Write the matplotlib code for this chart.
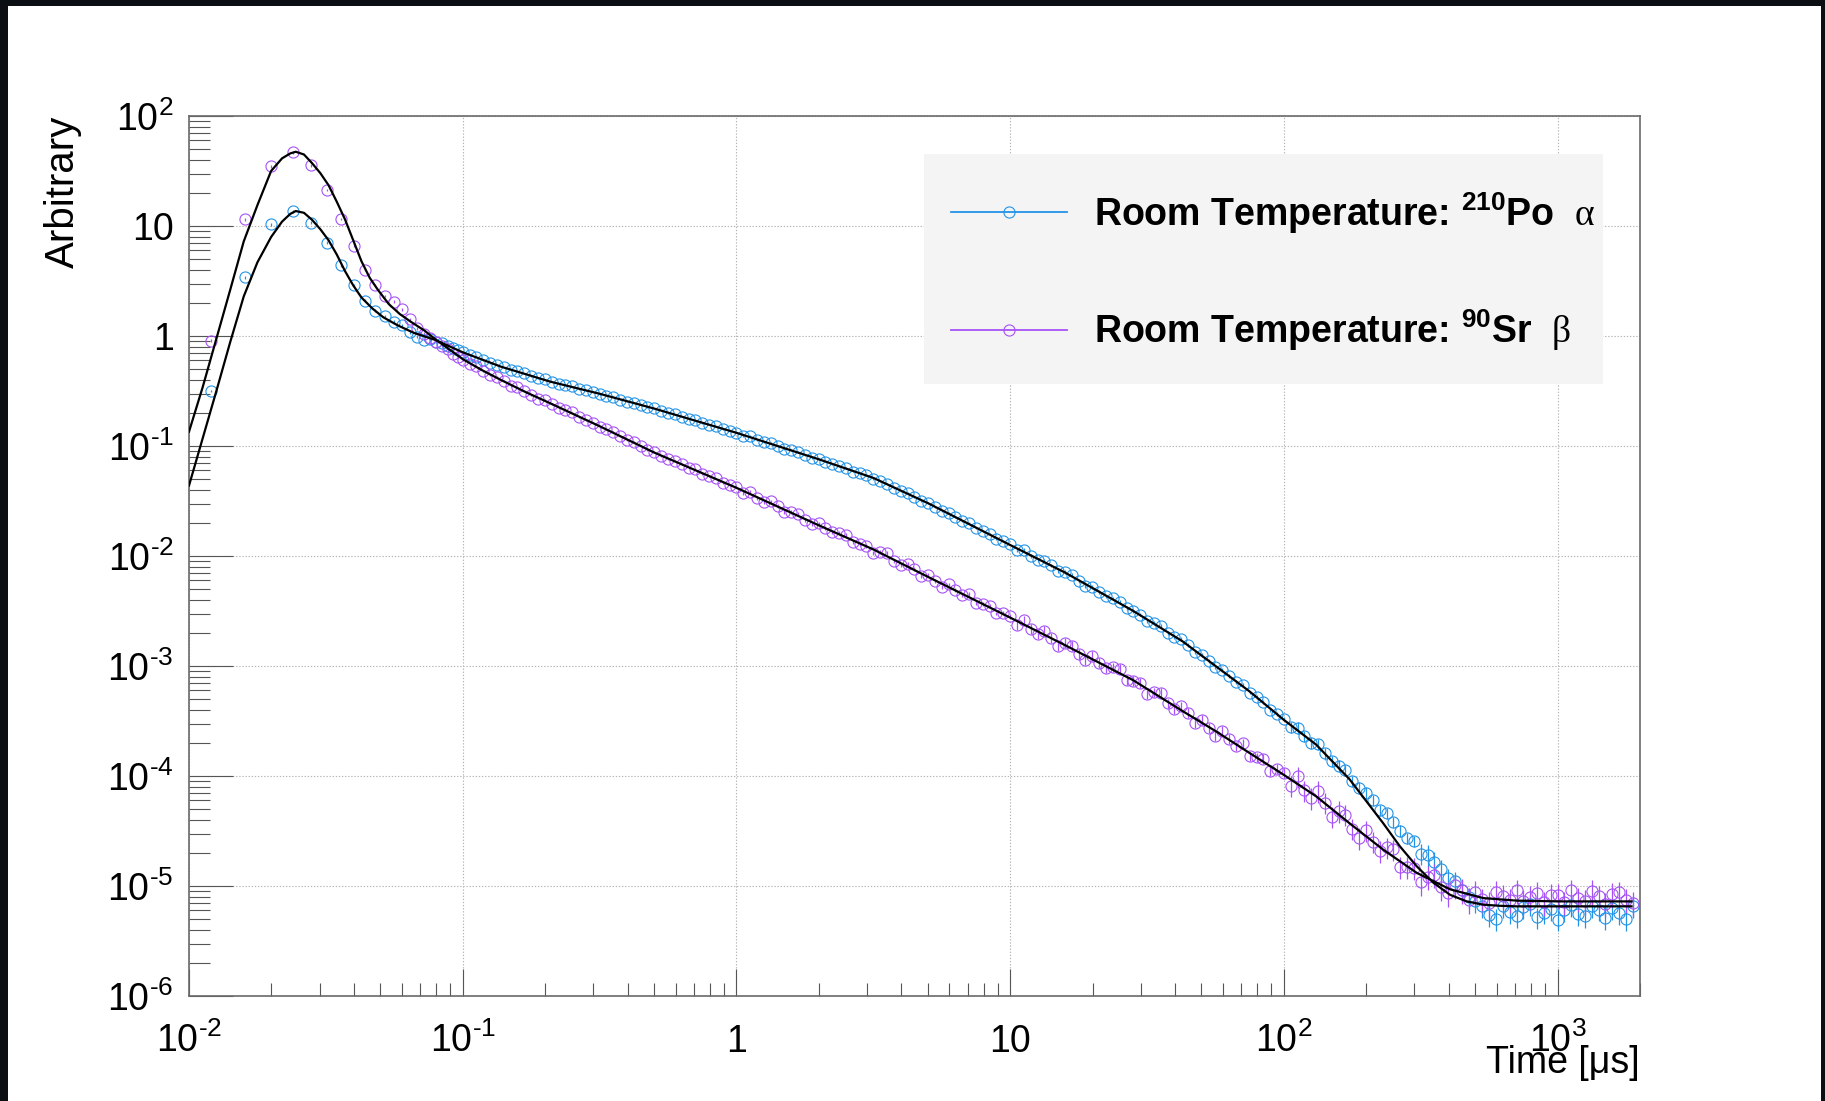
import numpy as np
import matplotlib
matplotlib.use("Agg")
import matplotlib.pyplot as plt
from matplotlib import font_manager
from matplotlib.lines import Line2D
from matplotlib.patches import Rectangle
from matplotlib.ticker import FixedLocator, LogLocator, NullFormatter

_names = {f.name for f in font_manager.fontManager.ttflist}
NARROW = 'Liberation Sans Narrow' in _names
BASE = 'Liberation Sans Narrow' if NARROW else 'Liberation Sans'
FS = 1.2 if NARROW else 1.0   # size factor so that widths stay the same

plt.rcParams['font.family'] = [BASE, 'Liberation Sans', 'DejaVu Sans']
plt.rcParams['mathtext.fontset'] = 'custom'
plt.rcParams['mathtext.rm'] = BASE
plt.rcParams['mathtext.it'] = BASE + ':italic'
plt.rcParams['mathtext.bf'] = BASE + ':bold'
plt.rcParams['mathtext.sf'] = 'Liberation Serif'

# ---------------- data (times in microseconds, values as log10) ----------------
early_t = [0.012, 0.016, 0.020, 0.024, 0.028, 0.032, 0.036, 0.040, 0.044, 0.048, 0.052,
           0.056, 0.060, 0.064, 0.068, 0.072, 0.076, 0.080, 0.084, 0.088, 0.092, 0.096]
bin_mantissas = [1.000, 1.059, 1.122, 1.189, 1.259, 1.334, 1.413, 1.496, 1.585, 1.679,
                 1.778, 1.884, 1.995, 2.113, 2.239, 2.371, 2.512, 2.661, 2.818, 2.985,
                 3.162, 3.350, 3.548, 3.758, 3.981, 4.217, 4.467, 4.732, 5.012, 5.309,
                 5.623, 5.957, 6.310, 6.683, 7.079, 7.499, 7.943, 8.414, 8.913, 9.441]
bin_decades = [0.1, 1.0, 10.0, 100.0, 1000.0]
t_max = 1900.0

po_early_logy = [-0.50, 0.534, 1.015, 1.134, 1.03, 0.848, 0.645, 0.461, 0.321, 0.23, 0.182,
                 0.13, 0.097, 0.034, -0.006, -0.036, -0.03, -0.05, -0.068, -0.088, -0.11, -0.13]
sr_early_logy = [-0.043, 1.06, 1.545, 1.67, 1.552, 1.327, 1.064, 0.821, 0.60, 0.464, 0.364,
                 0.312, 0.242, 0.152, 0.07, 0.02, -0.02, -0.05, -0.09, -0.12, -0.16, -0.19]

po_logy = [
    -0.146, -0.176, -0.189, -0.219, -0.246, -0.260, -0.286, -0.311,
    -0.321, -0.339, -0.364, -0.386, -0.395, -0.418, -0.436, -0.445,
    -0.458, -0.483, -0.495, -0.508, -0.531, -0.541, -0.554, -0.578,
    -0.597, -0.606, -0.624, -0.648, -0.657, -0.679, -0.702, -0.710,
    -0.732, -0.754, -0.764, -0.792, -0.807, -0.821, -0.848, -0.860,
    -0.878, -0.906, -0.912, -0.942, -0.965, -0.973, -0.999, -1.028,
    -1.036, -1.054, -1.083, -1.107, -1.114, -1.141, -1.167, -1.179,
    -1.197, -1.232, -1.249, -1.266, -1.298, -1.317, -1.341, -1.378,
    -1.410, -1.428, -1.461, -1.497, -1.516, -1.554, -1.590, -1.609,
    -1.645, -1.681, -1.702, -1.747, -1.773, -1.800, -1.843, -1.866,
    -1.895, -1.943, -1.948, -1.997, -2.034, -2.042, -2.086, -2.134,
    -2.142, -2.174, -2.226, -2.269, -2.278, -2.325, -2.368, -2.386,
    -2.415, -2.476, -2.502, -2.532, -2.592, -2.612, -2.639, -2.697,
    -2.739, -2.757, -2.808, -2.872, -2.898, -2.956, -3.013, -3.034,
    -3.089, -3.145, -3.170, -3.241, -3.284, -3.326, -3.399, -3.433,
    -3.482, -3.558, -3.560, -3.638, -3.696, -3.711, -3.795, -3.867,
    -3.908, -3.945, -4.045, -4.107, -4.150, -4.221, -4.312, -4.337,
    -4.420, -4.498, -4.567, -4.591, -4.705, -4.717, -4.778, -4.848,
    -4.930, -4.957, -5.032, -5.100, -5.138, -5.180, -5.263, -5.298,
    -5.179, -5.235, -5.270, -5.193, -5.165, -5.284, -5.242, -5.207,
    -5.305, -5.221, -5.172, -5.256, -5.277, -5.186, -5.214, -5.291,
    -5.200, -5.249, -5.298, -5.179,
]
sr_logy = [
    -0.215, -0.259, -0.273, -0.318, -0.355, -0.372, -0.411, -0.453,
    -0.468, -0.497, -0.536, -0.570, -0.581, -0.618, -0.652, -0.670,
    -0.694, -0.740, -0.763, -0.787, -0.830, -0.848, -0.871, -0.913,
    -0.946, -0.963, -0.997, -1.038, -1.055, -1.089, -1.122, -1.132,
    -1.165, -1.197, -1.210, -1.253, -1.273, -1.294, -1.335, -1.350,
    -1.374, -1.424, -1.417, -1.469, -1.505, -1.504, -1.548, -1.598,
    -1.597, -1.621, -1.671, -1.710, -1.704, -1.748, -1.785, -1.791,
    -1.810, -1.872, -1.887, -1.905, -1.970, -1.965, -1.976, -2.043,
    -2.083, -2.075, -2.119, -2.183, -2.175, -2.227, -2.279, -2.259,
    -2.307, -2.356, -2.345, -2.424, -2.437, -2.450, -2.522, -2.520,
    -2.548, -2.623, -2.583, -2.662, -2.709, -2.680, -2.744, -2.819,
    -2.790, -2.814, -2.890, -2.942, -2.906, -2.970, -3.022, -3.010,
    -3.026, -3.126, -3.134, -3.153, -3.258, -3.237, -3.241, -3.339,
    -3.393, -3.367, -3.425, -3.518, -3.491, -3.563, -3.636, -3.591,
    -3.661, -3.731, -3.701, -3.822, -3.831, -3.841, -3.951, -3.935,
    -3.969, -4.087, -4.003, -4.128, -4.197, -4.136, -4.242, -4.369,
    -4.315, -4.351, -4.478, -4.561, -4.491, -4.596, -4.680, -4.649,
    -4.664, -4.826, -4.827, -4.835, -4.968, -4.915, -4.897, -5.012,
    -5.063, -4.993, -5.037, -5.131, -5.056, -5.121, -5.154, -5.052,
    -5.088, -5.124, -5.040, -5.136, -5.100, -5.064, -5.148, -5.082,
    -5.082, -5.148, -5.040, -5.112, -5.136, -5.046, -5.094, -5.160,
    -5.070, -5.058, -5.124, -5.154,
]

# relative statistical errors by time region (upper bounds of regions in us)
err_bounds = [0.1, 1.0, 10.0, 100.0, 300.0]
po_rel_err = [0.03, 0.01, 0.02, 0.04, 0.12, 0.22]
sr_rel_err = [0.03, 0.015, 0.04, 0.10, 0.22, 0.25]

# fitted curves (log10 t, log10 value)
po_fit_logt = [-2.0, -1.95, -1.9, -1.85, -1.8, -1.75, -1.7, -1.66, -1.63, -1.61, -1.58, -1.55,
               -1.52, -1.49, -1.46, -1.43, -1.40, -1.37, -1.33, -1.29, -1.24, -1.18, -1.1,
               -1.0, -0.86, -0.68, -0.5, -0.3, 0.0, 0.3, 0.5, 0.7, 1.0, 1.2, 1.45, 1.63,
               1.752, 1.874, 2.0, 2.118, 2.24, 2.30, 2.363, 2.424, 2.485, 2.546, 2.607,
               2.668, 2.729, 2.79, 2.851, 3.0, 3.27]
po_fit_logy = [-1.36, -0.93, -0.50, -0.06, 0.36, 0.67, 0.90, 1.04, 1.11, 1.136, 1.12, 1.055,
               0.97, 0.87, 0.74, 0.59, 0.46, 0.35, 0.25, 0.17, 0.10, 0.03, -0.036,
               -0.148, -0.279, -0.415, -0.525, -0.66, -0.88, -1.12, -1.29, -1.52, -1.90,
               -2.15, -2.50, -2.776, -3.003, -3.23, -3.49, -3.715, -4.03, -4.225, -4.43,
               -4.64, -4.82, -4.97, -5.08, -5.14, -5.17, -5.18, -5.185, -5.185, -5.185]
sr_fit_logt = [-2.0, -1.95, -1.9, -1.85, -1.8, -1.75, -1.7, -1.66, -1.63, -1.61, -1.58, -1.55,
               -1.52, -1.49, -1.46, -1.43, -1.40, -1.37, -1.34, -1.31, -1.27, -1.23, -1.19,
               -1.14, -1.1, -1.05, -1.0, -0.93, -0.86, -0.77, -0.68, -0.5, -0.3, 0.0, 0.3,
               0.5, 0.7, 1.0, 1.2, 1.45, 1.63, 1.752, 1.874, 2.0, 2.118, 2.24, 2.363, 2.485,
               2.607, 2.729, 2.851, 3.0, 3.27]
sr_fit_logy = [-0.87, -0.465, -0.025, 0.415, 0.86, 1.19, 1.50, 1.615, 1.66, 1.675, 1.65, 1.57,
               1.48, 1.37, 1.22, 1.06, 0.87, 0.68, 0.53, 0.42, 0.29, 0.20, 0.13,
               0.05, -0.03, -0.12, -0.21, -0.31, -0.40, -0.51, -0.612, -0.82, -1.06, -1.38,
               -1.72, -1.94, -2.19, -2.56, -2.81, -3.13, -3.41, -3.594, -3.79, -3.99, -4.185,
               -4.43, -4.67, -4.88, -5.03, -5.11, -5.133, -5.14, -5.14]

x_tick_vals = [1e-2, 1e-1, 1.0, 10.0, 1e2, 1e3]
x_tick_labels = ['$10^{\\text{-}2}$', '$10^{\\text{-}1}$', '1', '10', '$10^{2}$', '$10^{3}$']
y_tick_vals = [1e-6, 1e-5, 1e-4, 1e-3, 1e-2, 1e-1, 1.0, 10.0, 1e2]
y_tick_labels = ['$10^{\\text{-}6}$', '$10^{\\text{-}5}$', '$10^{\\text{-}4}$', '$10^{\\text{-}3}$',
                 '$10^{\\text{-}2}$', '$10^{\\text{-}1}$', '1', '10', '$10^{2}$']

label_po = 'Room Temperature: $^{\\mathbf{210}}$Po  $\\mathsf{\\alpha}$'
label_sr = 'Room Temperature: $^{\\mathbf{90}}$Sr  $\\mathsf{\\beta}$'
color_po = '#2393e6'
color_sr = '#a652f7'

# ---------------- build arrays ----------------
late_t = [m * d for d in bin_decades for m in bin_mantissas if m * d <= t_max]
t_all = np.array(early_t + late_t)


def series(early, late):
    vals = np.array(early + late)
    n = min(len(vals), len(t_all))
    return t_all[:n], 10.0 ** vals[:n]


po_t, po_y = series(po_early_logy, po_logy)
sr_t, sr_y = series(sr_early_logy, sr_logy)
po_err = po_y * np.array(po_rel_err)[np.searchsorted(err_bounds, po_t)]
sr_err = sr_y * np.array(sr_rel_err)[np.searchsorted(err_bounds, sr_t)]

# ---------------- figure ----------------
W, H = 1825, 1101
fig = plt.figure(figsize=(W / 100, H / 100), dpi=100)
fig.patch.set_facecolor('#0b0f14')
fig.add_artist(Rectangle((8 / W, 0), (1821 - 8) / W, (H - 6) / H, transform=fig.transFigure,
                         facecolor='white', edgecolor='none', zorder=-10))

ax_l, ax_r, ax_t, ax_b = 189, 1640, 116, 996
ax = fig.add_axes([ax_l / W, 1 - ax_b / H, (ax_r - ax_l) / W, (ax_b - ax_t) / H])
ax.set_xscale('log')
ax.set_yscale('log')
ax.set_xlim(0.01, 2000)
ax.set_ylim(1e-6, 1e2)

MS = 8.0
ax.errorbar(po_t, po_y, yerr=po_err, fmt='o', ms=MS, mfc='none', mec=color_po, mew=0.8,
            ecolor=color_po, elinewidth=0.9, capsize=0, zorder=2)
ax.errorbar(sr_t, sr_y, yerr=sr_err, fmt='o', ms=MS, mfc='none', mec=color_sr, mew=0.8,
            ecolor=color_sr, elinewidth=0.9, capsize=0, zorder=2)
ax.plot(10.0 ** np.array(po_fit_logt), 10.0 ** np.array(po_fit_logy), color='black', lw=1.6, zorder=3)
ax.plot(10.0 ** np.array(sr_fit_logt), 10.0 ** np.array(sr_fit_logy), color='black', lw=1.6, zorder=3)

# ticks
ax.xaxis.set_major_locator(FixedLocator(x_tick_vals))
ax.set_xticklabels(x_tick_labels)
ax.yaxis.set_major_locator(FixedLocator(y_tick_vals))
ax.set_yticklabels(y_tick_labels)
ax.xaxis.set_minor_locator(LogLocator(base=10, subs=np.arange(2, 10), numticks=100))
ax.yaxis.set_minor_locator(LogLocator(base=10, subs=np.arange(2, 10), numticks=100))
ax.xaxis.set_minor_formatter(NullFormatter())
ax.yaxis.set_minor_formatter(NullFormatter())
ax.tick_params(which='both', direction='in', top=False, right=False, color='#555555', width=0.8)
ax.tick_params(axis='y', which='major', length=31.5, labelsize=27 * FS, pad=11)
ax.tick_params(axis='y', which='minor', length=15)
ax.tick_params(axis='x', which='major', length=19.5, labelsize=27 * FS, pad=40)
ax.tick_params(axis='x', which='minor', length=9.5)
for tk in ax.xaxis.get_major_ticks():
    tk.label1.set_va('baseline')

for sp in ax.spines.values():
    sp.set_color('#6a6a6a')
    sp.set_linewidth(1.2)

ax.grid(True, which='major', color='#b4b4b4', linestyle=(0, (1.2, 1.6)), linewidth=0.8)
ax.set_axisbelow(True)

ax.set_xlabel('Time [μs]', fontsize=27 * FS, ha='right')
ax.xaxis.set_label_coords(1.0, -0.056)
ax.set_ylabel('Arbitrary', fontsize=29 * FS, ha='right')
ax.yaxis.set_label_coords(-0.074, 1.0)

# legend
ax.add_patch(Rectangle((924 / W, 1 - 384 / H), (1603 - 924) / W, (384 - 154) / H,
                       transform=fig.transFigure, facecolor='#f4f4f4', edgecolor='none',
                       zorder=4))
handles = [Line2D([], [], color=color_po, lw=1.3, marker='o', ms=MS, mfc='none', mec=color_po, mew=0.8),
           Line2D([], [], color=color_sr, lw=1.3, marker='o', ms=MS, mfc='none', mec=color_sr, mew=0.8)]
leg = ax.legend(handles, [label_po, label_sr], loc='upper left',
                bbox_to_anchor=(951 / W, 1 - 190 / H), bbox_transform=fig.transFigure,
                frameon=False, borderpad=0, borderaxespad=0, handlelength=3.1 / FS,
                handletextpad=0.7 / FS, labelspacing=1.91 / FS, numpoints=1,
                prop={'weight': 'bold', 'size': 27 * FS})
leg.set_zorder(5)

fig.savefig('out.png', dpi=100, facecolor=fig.get_facecolor())
